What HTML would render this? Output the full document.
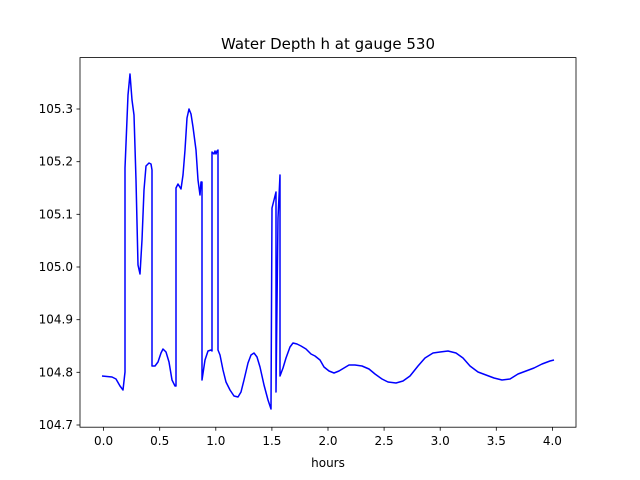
<!DOCTYPE html>
<html><head><meta charset="utf-8"><style>body{margin:0;background:#fff}svg{display:block}text{font-family:"DejaVu Sans","Liberation Sans",sans-serif;font-size:12px;fill:#000}</style></head><body>
<svg width="640" height="480" viewBox="0 0 640 480">
<rect x="0" y="0" width="640" height="480" fill="#fff"/>
<polyline fill="none" stroke="#0000ff" stroke-width="1.5" stroke-linejoin="round" points="102,376 112,377 116,379 120,386 123,390 125,372 125,168 128,95 130,74 132,100 134,115 136,180 138,265 140,274 142,240 144,190 146,166 149,163 151,164 152,170 152,366 155,366 158,362 161,353 163,349 166,352 169,362 172,380 175,386 176,386 176,188 178,184 181,189 183,175 185,150 187,118 189,109 191,114 193,127 196,150 198,180 200,195 201,182 202,182 202,380 205,360 208,351 211,350 212,351 212,152 214,154 215,151 216,154 217,151 218,150 218,350 220,355 223,370 226,382 230,390 234,396 238,397 241,392 244,380 248,363 251,355 254,353 257,357 260,367 264,385 268,400 271,409 272,208 274,200 276,192 276,392 278,218 280,175 280,376 283,368 286,358 290,347 293,343 297,344 301,346 306,349 311,354 315,356 320,360 324,367 329,371 334,373 339,371 344,368 349,365 355,365 362,366 369,369 375,374 382,379 388,382 396,383 403,381 410,376 418,366 425,358 433,353 440,352 448,351 456,353 463,358 470,366 478,372 486,375 494,378 502,380 510,379 518,374 526,371 534,368 542,364 550,361 554,360"/>
<rect x="80" y="57.6" width="496" height="369.6" fill="none" stroke="#000" stroke-width="0.8"/>
<g stroke="#000" stroke-width="0.8">
<line x1="103.6" y1="427.2" x2="103.6" y2="430.7"/><line x1="159.7" y1="427.2" x2="159.7" y2="430.7"/><line x1="215.8" y1="427.2" x2="215.8" y2="430.7"/><line x1="271.9" y1="427.2" x2="271.9" y2="430.7"/><line x1="328" y1="427.2" x2="328" y2="430.7"/><line x1="384.1" y1="427.2" x2="384.1" y2="430.7"/><line x1="440.2" y1="427.2" x2="440.2" y2="430.7"/><line x1="496.3" y1="427.2" x2="496.3" y2="430.7"/><line x1="552.4" y1="427.2" x2="552.4" y2="430.7"/>
<line x1="76.5" y1="425" x2="80" y2="425"/><line x1="76.5" y1="372.3" x2="80" y2="372.3"/><line x1="76.5" y1="319.7" x2="80" y2="319.7"/><line x1="76.5" y1="267" x2="80" y2="267"/><line x1="76.5" y1="214.3" x2="80" y2="214.3"/><line x1="76.5" y1="161.7" x2="80" y2="161.7"/><line x1="76.5" y1="109" x2="80" y2="109"/>
</g>
<g text-anchor="middle">
<text x="103.6" y="445">0.0</text><text x="159.7" y="445">0.5</text><text x="215.8" y="445">1.0</text><text x="271.9" y="445">1.5</text><text x="328" y="445">2.0</text><text x="384.1" y="445">2.5</text><text x="440.2" y="445">3.0</text><text x="496.3" y="445">3.5</text><text x="552.4" y="445">4.0</text>
<text x="328" y="467">hours</text>
<text x="328" y="49" style="font-size:15px">Water Depth h at gauge 530</text>
</g>
<g text-anchor="end">
<text x="73" y="429">104.7</text><text x="73" y="376.3">104.8</text><text x="73" y="323.7">104.9</text><text x="73" y="271">105.0</text><text x="73" y="218.3">105.1</text><text x="73" y="165.7">105.2</text><text x="73" y="113">105.3</text>
</g>
</svg>
</body></html>
